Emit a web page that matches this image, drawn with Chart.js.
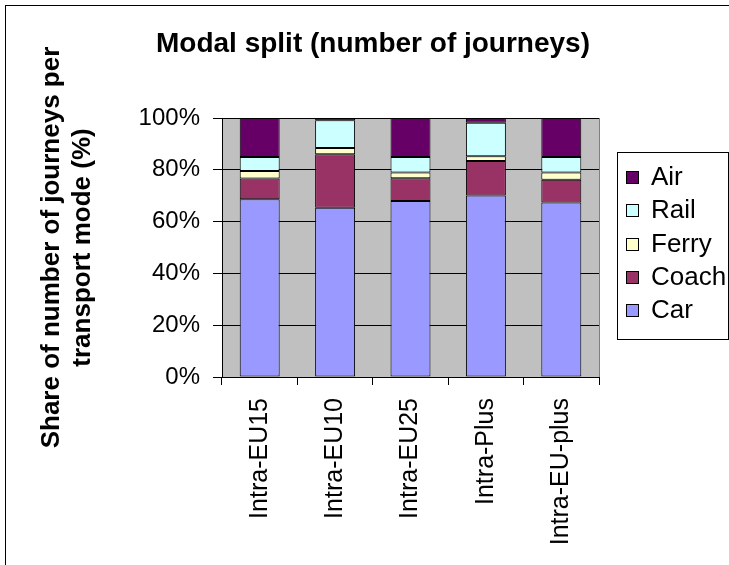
<!DOCTYPE html>
<html>
<head>
<meta charset="utf-8">
<script src="https://cdn.jsdelivr.net/npm/chart.js@4/dist/chart.umd.min.js"></script>
<style>
  html, body { margin: 0; padding: 0; background: #fff; overflow: hidden; }
  #wrap { width: 729px; height: 565px; overflow: hidden; }
</style>
</head>
<body>
<div id="wrap"><canvas id="chart" width="729" height="565"></canvas></div>
<script>
var chartTitle = 'Modal split (number of journeys)';
var categories = ['Intra-EU15', 'Intra-EU10', 'Intra-EU25', 'Intra-Plus', 'Intra-EU-plus'];
var car = [68.6, 65.3, 68.0, 70.1, 67.4];
var coach = [8.0, 20.7, 8.7, 13.3, 8.8];
var ferry = [2.9, 2.4, 2.3, 1.8, 2.8];
var rail = [5.4, 10.7, 5.9, 13.0, 5.9];
var air = [15.1, 0.9, 15.1, 1.8, 15.1];
var yTicks = [0, 20, 40, 60, 80, 100];

var FONT = "'Liberation Sans', Arial, sans-serif";
Chart.defaults.font.family = FONT;
Chart.defaults.color = '#000';

function makeSet(label, data, color) {
  return {
    label: label,
    data: data,
    backgroundColor: color,
    borderColor: '#000',
    borderWidth: 1,
    borderSkipped: false,
    categoryPercentage: 1,
    barPercentage: 0.53
  };
}

// grey plot area, outer frame, title and boxed legend
var excelLook = {
  id: 'excelLook',
  beforeDraw: function(chart) {
    var ctx = chart.ctx;
    var a = chart.chartArea;
    ctx.save();
    ctx.fillStyle = '#fff';
    ctx.fillRect(0, 0, chart.width, chart.height);
    ctx.strokeStyle = '#000';
    ctx.lineWidth = 1;
    ctx.strokeRect(5.5, 5.5, 900, 900);
    ctx.fillStyle = '#C0C0C0';
    ctx.fillRect(a.left, a.top, a.right - a.left, a.bottom - a.top);
    ctx.strokeStyle = '#808080';
    ctx.beginPath();
    ctx.moveTo(a.right + 0.5, a.top);
    ctx.lineTo(a.right + 0.5, a.bottom);
    ctx.stroke();

    ctx.fillStyle = '#000';
    ctx.font = 'bold 28px ' + FONT;
    ctx.textAlign = 'center';
    ctx.textBaseline = 'middle';
    ctx.fillText(chartTitle, 373, 44);
    ctx.restore();
  },
  afterDraw: function(chart) {
    var ctx = chart.ctx;
    var sets = chart.data.datasets.slice().reverse();
    ctx.save();
    ctx.strokeStyle = '#000';
    ctx.lineWidth = 1;
    ctx.strokeRect(617.5, 152.5, 111, 187);
    ctx.font = '26px ' + FONT;
    ctx.textBaseline = 'middle';
    ctx.textAlign = 'left';
    for (var i = 0; i < sets.length; i++) {
      var cy = 177 + i * 33.3;
      ctx.fillStyle = sets[i].backgroundColor;
      ctx.fillRect(626.5, Math.round(cy - 6) + 0.5, 12, 12);
      ctx.strokeRect(626.5, Math.round(cy - 6) + 0.5, 12, 12);
      ctx.fillStyle = '#000';
      ctx.fillText(sets[i].label, 651, cy + 1);
    }
    ctx.restore();
  }
};

var ctx = document.getElementById('chart');
var myChart = new Chart(ctx, {
  type: 'bar',
  data: {
    labels: categories,
    datasets: [
      makeSet('Car', car, '#9999FF'),
      makeSet('Coach', coach, '#993366'),
      makeSet('Ferry', ferry, '#FFFFCC'),
      makeSet('Rail', rail, '#CCFFFF'),
      makeSet('Air', air, '#660066')
    ]
  },
  options: {
    responsive: false,
    animation: false,
    devicePixelRatio: 1,
    layout: { padding: { left: 0, right: 130, top: 118, bottom: 0 } },
    plugins: {
      legend: { display: false },
      tooltip: { enabled: false },
      title: { display: false }
    },
    scales: {
      x: {
        stacked: true,
        grid: { display: true, drawOnChartArea: false, color: '#000', tickLength: 8, offset: true },
        border: { display: true, color: '#000' },
        ticks: { minRotation: 90, maxRotation: 90, padding: 13, font: { size: 25 }, color: '#000' },
        afterFit: function(scale) { scale.height = 188; }
      },
      y: {
        stacked: true,
        min: 0,
        max: 100,
        afterBuildTicks: function(scale) {
          scale.ticks = yTicks.map(function(v) { return { value: v }; });
        },
        grid: { color: '#000', tickLength: 9, drawTicks: true },
        border: { display: true, color: '#000' },
        ticks: {
          padding: 13,
          font: { size: 24 },
          color: '#000',
          callback: function(v) { return v + '%'; }
        },
        title: {
          display: true,
          text: ['Share of number of journeys per', 'transport mode (%)'],
          color: '#000',
          font: { size: 26, weight: 'bold', lineHeight: 1.19 },
          padding: { top: 36, bottom: 0 }
        },
        afterFit: function(scale) { scale.width = 222; }
      }
    }
  },
  plugins: [excelLook]
});
</script>
</body>
</html>
